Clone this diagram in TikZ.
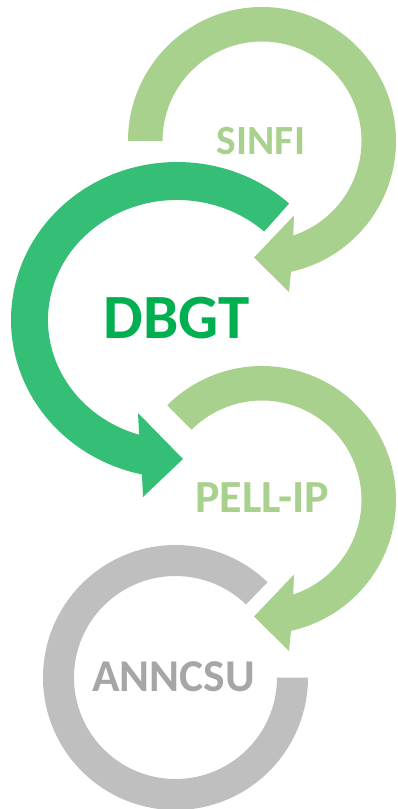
\documentclass[tikz,border=0pt]{standalone}
\usepackage{fontspec}
\setmainfont{Carlito}
\usetikzlibrary{calc}
\definecolor{lgreen}{RGB}{169,209,142}
\definecolor{mgreen}{RGB}{53,190,117}
\definecolor{tgreen}{RGB}{0,176,80}
\definecolor{ringgray}{RGB}{191,191,191}
\definecolor{textgray}{RGB}{166,166,166}
\tikzset{lbl/.style={inner sep=0pt, font=\bfseries}}
\begin{document}
\begin{tikzpicture}[x=1pt,y=1pt]
\useasboundingbox (0,0) rectangle (398,-809);
% centres
\coordinate (c1) at (262,-141);
\coordinate (c2) at (177,-320);
\coordinate (c3) at (262,-500);
\coordinate (c4) at (175.5,-677.5);
% SINFI arrow
\fill[lgreen] ($(c1)+(180:134)$) arc[start angle=180, end angle=-77.5, radius=134]
  -- (289,-292) -- (254,-257.5) -- (294,-215.5)
  -- ($(c1)+(-71.7:99.5)$) arc[start angle=-71.7, end angle=180, radius=99.5] -- cycle;
% DBGT arrow (elliptic)
\fill[mgreen] ($(c2)+({166*cos(47.5)},{158*sin(47.5)})$)
  arc[start angle=47.5, end angle=257.8, x radius=166, y radius=158]
  -- (143,-497) -- (183,-459) -- (138,-413)
  -- ($(c2)+({129*cos(252.9)},{120*sin(252.9)})$)
  arc[start angle=252.9, end angle=47.5, x radius=129, y radius=120] -- cycle;
% PELL-IP arrow
\fill[lgreen] ($(c3)+(135:134)$) arc[start angle=135, end angle=-77.5, radius=134]
  -- (289,-651) -- (254,-616.5) -- (294,-574.5)
  -- ($(c3)+(-71.7:99.5)$) arc[start angle=-71.7, end angle=135, radius=99.5] -- cycle;
% ANNCSU ring
\fill[ringgray] ($(c4)+(46:132.5)$) arc[start angle=46, end angle=360, radius=132.5]
  -- ($(c4)+(0:101.5)$) arc[start angle=360, end angle=46, radius=101.5] -- cycle;
% labels
\node[lbl, text=lgreen, font=\bfseries\fontsize{41.5}{42}\selectfont] (sinfi) at (261,-141) {SINFI};
\node[lbl, text=tgreen, font=\bfseries\fontsize{63}{64}\selectfont] (dbgt) at (176.5,-318) {DBGT};
\node[lbl, text=lgreen, font=\bfseries\fontsize{46}{47}\selectfont] (pell) at (262,-497.5) {PELL-IP};
\node[lbl, text=textgray, font=\bfseries\fontsize{45.5}{46}\selectfont] (anncsu) at (173.5,-677) {ANNCSU};
\end{tikzpicture}
\end{document}
